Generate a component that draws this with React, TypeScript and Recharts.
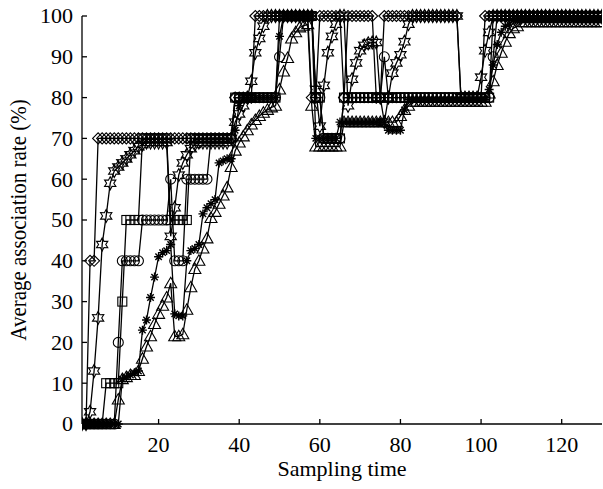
import React from 'react';
import { LineChart, Line, XAxis, YAxis, Label } from 'recharts';

const sampling: number[] = Array.from({ length: 130 }, (_, i) => i + 1);

const xTicks = [20, 40, 60, 80, 100, 120];
const yTicks = [0, 10, 20, 30, 40, 50, 60, 70, 80, 90, 100];

const diamond = [
  0, 0, 40, 40, 70, 70, 70, 70, 70, 70,
  70, 70, 70, 70, 70, 70, 70, 70, 70, 70,
  70, 70, 70, 70, 70, 70, 70, 70, 70, 70,
  70, 70, 70, 70, 70, 70, 70, 70, 80, 80,
  80, 80, 80, 100, 100, 100, 100, 100, 100, 100,
  100, 100, 100, 100, 100, 100, 100, 80, 80, 100,
  100, 100, 100, 100, 100, 80, 100, 100, 100, 100,
  100, 100, 100, 80, 80, 100, 100, 100, 100, 100,
  100, 100, 100, 100, 100, 100, 100, 100, 100, 100,
  100, 100, 100, 100, 80, 80, 80, 80, 80, 80,
  100, 100, 100, 100, 100, 100, 100, 100, 100, 100,
  100, 100, 100, 100, 100, 100, 100, 100, 100, 100,
  100, 100, 100, 100, 100, 100, 100, 100, 100, 100,
];

const star = [
  0, 0, 3, 13, 26, 44, 51, 59, 62, 63,
  64, 65, 66, 67, 68, 68.5, 69, 69, 69, 69,
  69, 69, 46, 53, 61, 64, 66, 67.5, 68.5, 69,
  69, 69, 69, 69, 69, 69, 69, 70, 74, 76,
  78, 80, 84, 91, 94.5, 97.5, 100, 100, 100, 100,
  100, 100, 100, 100, 100, 100, 100, 100, 82, 73,
  83, 91, 95, 98, 100, 100, 78, 84.5, 88.5, 91.5,
  92.8, 93.3, 93.5, 93.5, 80, 74, 80, 86, 88.5, 90.5,
  93.7, 98, 100, 100, 100, 100, 100, 100, 100, 100,
  100, 100, 100, 100, 80, 80, 80, 80, 80, 85,
  91.5, 96, 100, 100, 100, 100, 100, 100, 100, 100,
  100, 100, 100, 100, 100, 100, 100, 100, 100, 100,
  100, 100, 100, 100, 100, 100, 100, 100, 100, 100,
];

const square = [
  0, 0, 0, 0, 0, 0, 10, 10, 10, 10,
  30, 50, 50, 50, 50, 70, 70, 70, 70, 70,
  70, 70, 50, 50, 50, 50, 50, 70, 70, 70,
  70, 70, 70, 70, 70, 70, 70, 70, 80, 80,
  80, 80, 80, 80, 80, 80, 80, 80, 80, 100,
  100, 100, 100, 100, 100, 100, 100, 100, 80, 80,
  70, 70, 70, 70, 70, 80, 80, 80, 80, 80,
  80, 80, 80, 80, 80, 80, 80, 80, 80, 80,
  80, 80, 80, 80, 80, 80, 80, 80, 80, 80,
  80, 80, 80, 80, 80, 80, 80, 80, 80, 80,
  80, 80, 100, 100, 100, 100, 100, 100, 100, 100,
  100, 100, 100, 100, 100, 100, 100, 100, 100, 100,
  100, 100, 100, 100, 100, 100, 100, 100, 100, 100,
];

const circle = [
  0, 0, 0, 0, 0, 0, 0, 0, 0, 20,
  40, 40, 40, 40, 40, 50, 50, 50, 50, 50,
  50, 50, 60, 40, 40, 40, 60, 60, 60, 60,
  60, 60, 70, 70, 70, 70, 70, 70, 80, 80,
  80, 80, 80, 80, 80, 80, 80, 80, 80, 90,
  100, 100, 100, 100, 100, 100, 100, 100, 80, 80,
  70, 70, 70, 70, 70, 80, 80, 80, 80, 80,
  80, 80, 80, 80, 80, 90, 80, 80, 80, 80,
  80, 80, 80, 80, 80, 80, 80, 80, 80, 80,
  80, 80, 80, 80, 80, 80, 80, 80, 80, 80,
  80, 80, 90, 100, 100, 100, 100, 100, 100, 100,
  100, 100, 100, 100, 100, 100, 100, 100, 100, 100,
  100, 100, 100, 100, 100, 100, 100, 100, 100, 100,
];

const asterisk = [
  0, 0, 0, 0, 0, 0, 0, 0, 0, 0,
  11, 11.5, 12, 12.5, 13, 23, 25.5, 31, 36, 41,
  42, 42.5, 44, 27, 26.5, 26.5, 40, 42.5, 43, 44,
  51.5, 53, 54, 55, 64, 64.5, 65, 65, 72, 78,
  80, 80, 80, 80, 80, 80, 80, 80, 80, 95,
  100, 100, 100, 100, 100, 100, 100, 100, 70, 70,
  70, 70, 70, 70, 74, 74, 74, 74, 74, 74,
  74, 74, 74, 74, 74, 74, 72, 72, 72, 72,
  77, 79.5, 79.5, 79.5, 79.5, 79.5, 79.5, 79.5, 79.5, 79.5,
  79.5, 79.5, 79.5, 79.5, 79.5, 79.5, 79.5, 79.5, 79.5, 79.5,
  79.5, 82, 88, 93, 96, 97.5, 98, 99, 99, 99,
  99, 99, 99, 99, 99, 99, 99, 99, 99, 99,
  99, 99, 99, 99, 99, 99, 99, 99, 99, 99,
];

const triangle = [
  0, 0, 0, 0, 0, 0, 0, 0, 0, 6,
  11, 11.5, 12, 12, 13, 16, 19, 21.5, 24.5, 27,
  29, 31, 34.5, 21.5, 21.5, 22, 28, 33.5, 38, 40,
  43, 45.5, 50.5, 52, 54, 56, 58, 63, 67, 69,
  70.5, 72, 73.4, 74.5, 75.5, 76.3, 77, 77.6, 78, 82,
  86.4, 89.7, 94.5, 96, 97.2, 97.6, 98, 78, 68, 68,
  68, 68, 68, 68, 68, 74, 74, 74, 74, 74,
  74, 74, 74, 74, 74, 74, 74, 74, 74, 75.5,
  77, 78, 79, 79, 79, 79, 79, 79, 79, 79,
  79, 79, 79, 79, 79, 79, 79, 79, 79, 79,
  79, 81, 84, 88, 91, 93.7, 95.8, 97, 97.5, 98.5,
  98.5, 98.5, 98.5, 98.5, 98.5, 98.5, 98.5, 98.5, 98.5, 98.5,
  98.5, 98.5, 98.5, 98.5, 98.5, 98.5, 98.5, 98.5, 98.5, 98.5,
];

const data = sampling.map((t, i) => ({
  t,
  diamond: diamond[i],
  star: star[i],
  square: square[i],
  circle: circle[i],
  asterisk: asterisk[i],
  triangle: triangle[i],
}));

const FONT = '"Liberation Serif", "DejaVu Serif", serif';
const FS = 21;
const SX = 1.05;

const hexPath = (cx: number, cy: number, R: number, r: number) => {
  let d = '';
  for (let k = 0; k < 12; k++) {
    const ang = (-90 + k * 30) * (Math.PI / 180);
    const rad = k % 2 === 0 ? R : r;
    d += (k === 0 ? 'M' : 'L') + (cx + rad * Math.cos(ang)).toFixed(2) + ' ' + (cy + rad * Math.sin(ang)).toFixed(2);
  }
  return d + 'Z';
};

const makeDot = (shape: string) => (p: any) => {
  const { cx, cy, index } = p;
  const key = `${shape}-${index}`;
  if (cx == null || cy == null || isNaN(cx) || isNaN(cy)) return <g key={key} />;
  const st = { fill: 'none', stroke: '#000', strokeWidth: 1.1 };
  switch (shape) {
    case 'diamond':
      return <path key={key} d={`M${cx - 5.5} ${cy}L${cx} ${cy - 5.5}L${cx + 5.5} ${cy}L${cx} ${cy + 5.5}Z`} {...st} />;
    case 'square':
      return <rect key={key} x={cx - 4.5} y={cy - 4.5} width={9} height={9} {...st} />;
    case 'circle':
      return <circle key={key} cx={cx} cy={cy} r={5} {...st} />;
    case 'triangle':
      return <path key={key} d={`M${cx} ${cy - 6}L${cx + 6} ${cy + 4.5}L${cx - 6} ${cy + 4.5}Z`} {...st} />;
    case 'star':
      return <path key={key} d={hexPath(cx, cy, 6.5, 3.6)} {...st} />;
    case 'asterisk':
    default:
      return (
        <path
          key={key}
          d={`M${cx - 4.5} ${cy}L${cx + 4.5} ${cy}M${cx} ${cy - 4.5}L${cx} ${cy + 4.5}M${cx - 3.2} ${cy - 3.2}L${cx + 3.2} ${cy + 3.2}M${cx - 3.2} ${cy + 3.2}L${cx + 3.2} ${cy - 3.2}`}
          fill="none"
          stroke="#000"
          strokeWidth={1.4}
        />
      );
  }
};

const XTick = (p: any) => (
  <g transform={`translate(${p.x},${p.y})`}>
    <text transform={`scale(${SX},1)`} textAnchor="middle" dy="0.71em" fontSize={FS} fontFamily={FONT} fill="#000">
      {p.payload.value}
    </text>
  </g>
);

const YTick = (p: any) => (
  <g transform={`translate(${p.x},${p.y})`}>
    <text transform={`scale(${SX},1)`} textAnchor="end" dy="0.35em" fontSize={FS} fontFamily={FONT} fill="#000">
      {p.payload.value}
    </text>
  </g>
);

const XTitle = (props: any) => {
  const vb = props.viewBox || { x: 82, y: 424, width: 520, height: 65 };
  const cx = vb.x + vb.width / 2;
  const y = vb.y + vb.height - 13;
  return (
    <g transform={`translate(${cx},${y})`}>
      <text transform={`scale(${SX},1)`} textAnchor="middle" fontSize={FS} fontFamily={FONT} fill="#000">
        Sampling time
      </text>
    </g>
  );
};

const YTitle = (props: any) => {
  const vb = props.viewBox || { x: 8, y: 16, width: 74, height: 408 };
  const cx = vb.x + 10;
  const cy = vb.y + vb.height / 2;
  return (
    <g transform={`translate(${cx},${cy}) scale(${SX},1) rotate(-90)`}>
      <text textAnchor="middle" dy="0.35em" fontSize={FS} fontFamily={FONT} fill="#000">
        Average association rate (%)
      </text>
    </g>
  );
};

const seriesKeys = ['diamond', 'star', 'square', 'circle', 'asterisk', 'triangle'];

export default function App() {
  return (
    <div style={{ position: 'absolute', left: 0, top: 0, width: 603, height: 489, background: '#fff' }}>
      <LineChart width={603} height={489} data={data} margin={{ top: 16, right: 1, left: 8, bottom: 0 }}>
        <XAxis
          dataKey="t"
          type="number"
          domain={[1, 130]}
          ticks={xTicks}
          allowDataOverflow
          tickSize={-5}
          tickMargin={18}
          height={65}
          axisLine={{ stroke: '#000', strokeWidth: 1.3 }}
          tickLine={{ stroke: '#000', strokeWidth: 1.3 }}
          tick={<XTick />}
        >
          <Label position="insideBottom" content={<XTitle />} />
        </XAxis>
        <YAxis
          type="number"
          domain={[0, 100]}
          ticks={yTicks}
          tickSize={-5}
          tickMargin={14}
          width={74}
          axisLine={{ stroke: '#000', strokeWidth: 1.3 }}
          tickLine={{ stroke: '#000', strokeWidth: 1.3 }}
          tick={<YTick />}
        >
          <Label position="insideLeft" content={<YTitle />} />
        </YAxis>
        {seriesKeys.map((k) => (
          <Line
            key={k}
            type="linear"
            dataKey={k}
            stroke="#000"
            strokeWidth={1.3}
            dot={makeDot(k)}
            activeDot={false}
            isAnimationActive={false}
          />
        ))}
      </LineChart>
    </div>
  );
}
